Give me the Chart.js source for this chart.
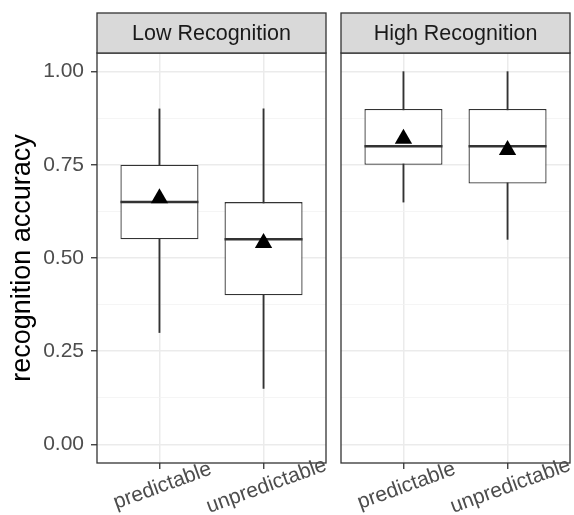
<!DOCTYPE html>
<html>
<head>
<meta charset="utf-8">
<script src="https://cdn.jsdelivr.net/npm/chart.js@4.4.1/dist/chart.umd.min.js"></script>
<style>
    html, body { margin: 0; padding: 0; background: #fff; }
    #wrap { position: relative; width: 574px; height: 515px; }
    canvas { position: absolute; top: 0; }
    #c-low { left: 0; }
    #c-high { left: 330px; }
</style>
</head>
<body>
<div id="wrap">
    <canvas id="c-low" width="330" height="515"></canvas>
    <canvas id="c-high" width="244" height="515"></canvas>
</div>
<script>
// ============================
// Data
// ============================
const categories = ["predictable", "unpredictable"];
const panelTitles = ["Low Recognition", "High Recognition"];

const lowMin    = [0.30, 0.15];
const lowQ1     = [0.55, 0.40];
const lowMedian = [0.65, 0.55];
const lowQ3     = [0.75, 0.65];
const lowMax    = [0.90, 0.90];
const lowMean   = [0.66, 0.54];

const highMin    = [0.65, 0.55];
const highQ1     = [0.75, 0.70];
const highMedian = [0.80, 0.80];
const highQ3     = [0.90, 0.90];
const highMax    = [1.00, 1.00];
const highMean   = [0.82, 0.79];

const yTicks    = [0, 0.125, 0.25, 0.375, 0.5, 0.625, 0.75, 0.875, 1];
const yLabelled = [0, 0.25, 0.5, 0.75, 1];

const FONT = '"Liberation Sans", Arial, Helvetica, sans-serif';
const DARK = "#333333";
Chart.defaults.font.family = FONT;

// strip on top of the panel + full border (ggplot theme_bw look),
// x tick labels centred under their ticks at a 20deg slant
const panelFrame = {
    id: "panelFrame",
    afterDraw(chart, args, opts) {
        const { ctx, chartArea: a } = chart;
        const w = a.right - a.left, stripH = 40;
        ctx.save();
        ctx.strokeStyle = DARK; ctx.lineWidth = 1.3;
        ctx.strokeRect(a.left, a.top, w, a.bottom - a.top);
        ctx.fillStyle = "#D9D9D9";
        ctx.fillRect(a.left, a.top - stripH, w, stripH);
        ctx.strokeRect(a.left, a.top - stripH, w, stripH);
        ctx.fillStyle = "#1A1A1A";
        ctx.font = `21.5px ${FONT}`;
        ctx.textAlign = "center"; ctx.textBaseline = "middle";
        ctx.fillText(opts.text, a.left + w / 2, a.top - stripH / 2 + 1);

        const sx = chart.scales.x;
        ctx.fillStyle = "#4D4D4D";
        ctx.font = `21px ${FONT}`;
        sx.ticks.forEach((t, i) => {
            ctx.save();
            ctx.translate(sx.getPixelForTick(i) + 3, a.bottom + 23);
            ctx.rotate(-20 * Math.PI / 180);
            ctx.fillText(t.label ?? categories[i], 0, 0);
            ctx.restore();
        });
        ctx.restore();
    }
};

const pts = arr => arr.map((v, i) => ({ x: i + 1, y: v }));
const spans = (a, b) => a.map((v, i) => ({ x: i + 1, y: [v, b[i]] }));

function makePanel(id, title, s, showY) {
    const isMajor = v => yLabelled.includes(v);
    return new Chart(document.getElementById(id), {
        type: "bar",
        data: {
            datasets: [
                { type: "bar", data: spans(s.min, s.max), backgroundColor: DARK, borderWidth: 0,
                  barThickness: 1.2, grouped: false, order: 4 },
                { type: "bar", data: spans(s.q1, s.q3), backgroundColor: "#fff", borderColor: DARK,
                  borderWidth: 1.3, borderSkipped: false, barPercentage: 0.75, categoryPercentage: 1,
                  grouped: false, order: 3 },
                { type: "scatter", data: pts(s.median), pointStyle: "line", pointRadius: 39,
                  pointHoverRadius: 39, borderColor: DARK, borderWidth: 2.5, order: 2 },
                { type: "scatter", data: pts(s.mean), pointStyle: "triangle", pointRadius: 10,
                  pointHoverRadius: 10, backgroundColor: "#000", borderColor: "#000", borderWidth: 0, order: 1 }
            ]
        },
        options: {
            responsive: false, animation: false,
            layout: { autoPadding: false, padding: { top: 53, right: 4, left: 0, bottom: 0 } },
            plugins: { legend: { display: false }, tooltip: { enabled: false }, panelFrame: { text: title } },
            scales: {
                x: {
                    type: "linear", min: 0.4, max: 2.6, offset: false,
                    afterBuildTicks: sc => { sc.ticks = categories.map((c, i) => ({ value: i + 1 })); },
                    afterFit: sc => { sc.height = 52; sc.paddingLeft = 0; sc.paddingRight = 0; },
                    border: { display: false },
                    grid: { offset: false, color: "#EBEBEB", lineWidth: 1.5, tickLength: 6, tickColor: DARK, tickWidth: 1.3 },
                    ticks: { display: false, callback: v => categories[v - 1], autoSkip: false }
                },
                y: {
                    type: "linear", min: -0.05, max: 1.05,
                    afterBuildTicks: sc => { sc.ticks = yTicks.map(v => ({ value: v })); },
                    afterFit: sc => { sc.width = showY ? 97 : 11; },
                    border: { display: false },
                    grid: {
                        color: c => isMajor(c.tick?.value) ? "#EBEBEB" : "#F2F2F2",
                        lineWidth: c => isMajor(c.tick?.value) ? 1.5 : 0.8,
                        drawTicks: showY, tickLength: 6,
                        tickColor: c => isMajor(c.tick?.value) ? DARK : "rgba(0,0,0,0)", tickWidth: 1.3
                    },
                    ticks: {
                        display: showY, autoSkip: false, padding: 7,
                        callback: v => isMajor(v) ? v.toFixed(2) : "",
                        color: "#4D4D4D", font: { size: 21 }
                    },
                    title: {
                        display: showY, text: "recognition accuracy", color: "#000",
                        font: { size: 27 }, padding: { top: 6, bottom: 0 }
                    }
                }
            }
        },
        plugins: [panelFrame]
    });
}

makePanel("c-low", panelTitles[0],
    { min: lowMin, q1: lowQ1, median: lowMedian, q3: lowQ3, max: lowMax, mean: lowMean }, true);
makePanel("c-high", panelTitles[1],
    { min: highMin, q1: highQ1, median: highMedian, q3: highQ3, max: highMax, mean: highMean }, false);
</script>
</body>
</html>
